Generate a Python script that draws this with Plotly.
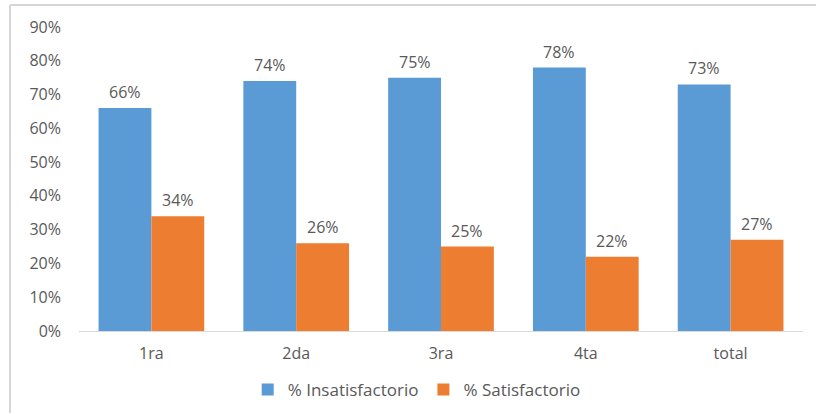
import plotly.graph_objects as go

categories = ["1ra", "2da", "3ra", "4ta", "total"]
insatisfactorio = [66, 74, 75, 78, 73]
satisfactorio = [34, 26, 25, 22, 27]
tick_vals = [0, 10, 20, 30, 40, 50, 60, 70, 80, 90]
tick_text = [f"{v}%" for v in tick_vals]

font_fam = "Open Sans, Noto Sans, Liberation Sans, sans-serif"
gray = "#595959"
bargap = 0.27
plot_w = 816 - 79 - 13
bar_w = plot_w / len(categories) * (1 - bargap) / 2

fig = go.Figure()
fig.add_trace(go.Bar(
    x=categories, y=insatisfactorio, name="% Insatisfactorio",
    marker=dict(color="#5B9BD5", line=dict(width=0)),
))
fig.add_trace(go.Bar(
    x=categories, y=satisfactorio, name="% Satisfactorio",
    marker=dict(color="#ED7D31", line=dict(width=0)),
))

annotations = []
for cat, v in zip(categories, insatisfactorio):
    annotations.append(dict(x=cat, y=v, xref="x", yref="y", text=f"{v}%", showarrow=False,
                            xshift=-bar_w / 2, yshift=16, yanchor="middle",
                            font=dict(size=16, color=gray, family=font_fam)))
for cat, v in zip(categories, satisfactorio):
    annotations.append(dict(x=cat, y=v, xref="x", yref="y", text=f"{v}%", showarrow=False,
                            xshift=bar_w / 2, yshift=16, yanchor="middle",
                            font=dict(size=16, color=gray, family=font_fam)))

fig.update_layout(
    width=816, height=413,
    margin=dict(l=79, r=13, t=27, b=82, autoexpand=False),
    paper_bgcolor="white", plot_bgcolor="white",
    barmode="group", bargap=bargap, bargroupgap=0,
    font=dict(family=font_fam, color=gray, size=16),
    showlegend=True,
    legend=dict(orientation="h", x=0.233, xanchor="left", y=-0.194, yanchor="middle",
                font=dict(size=17, color=gray), itemwidth=30, traceorder="normal"),
    xaxis=dict(showline=True, linecolor="#d9d9d9", linewidth=1, ticks="", automargin=False,
               tickfont=dict(size=16, color=gray), ticklabelstandoff=8),
    yaxis=dict(range=[0, 90], tickvals=tick_vals, ticktext=tick_text, automargin=False,
               showgrid=False, zeroline=False, showline=False,
               tickfont=dict(size=16, color=gray), ticklabelstandoff=17),
    annotations=annotations,
    shapes=[
        dict(type="line", xref="paper", yref="paper", x0=-0.0953, x1=1.02, y0=1.0724, y1=1.0724,
             line=dict(color="#d6d6d6", width=2)),
        dict(type="line", xref="paper", yref="paper", x0=-0.0953, x1=-0.0953, y0=1.0724, y1=-0.3,
             line=dict(color="#d6d6d6", width=2)),
    ],
)

fig.write_html("out.html", config={"displayModeBar": False},
               post_script="document.body.style.margin='0';")
